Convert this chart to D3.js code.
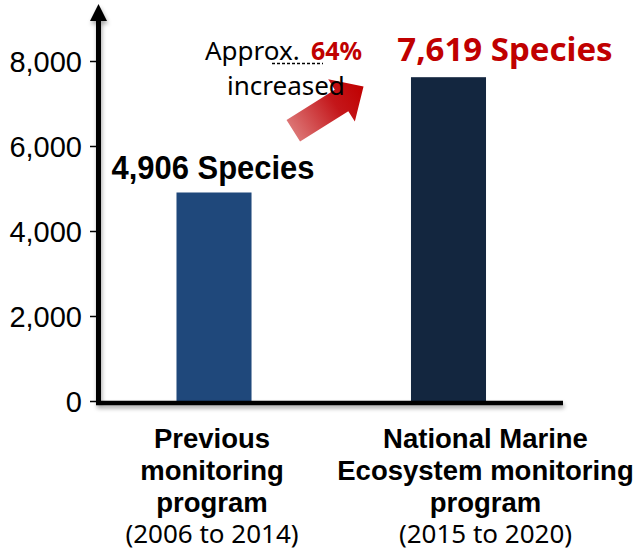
<!DOCTYPE html>
<html>
<head>
<meta charset="utf-8">
<script src="https://cdn.jsdelivr.net/npm/d3@7"></script>
<style>
  html, body { margin: 0; padding: 0; background: #ffffff; }
  svg { display: block; }
</style>
</head>
<body>
<svg id="chart" width="634" height="552"></svg>
<script>
// ---- data ----
const categories = ["Previous monitoring program", "National Marine Ecosystem monitoring program"];
const categoryLines = [
  ["Previous", "monitoring", "program"],
  ["National Marine", "Ecosystem monitoring", "program"]
];
const periodLabels = ["(2006 to 2014)", "(2015 to 2020)"];
const speciesCounts = [4906, 7619];
const valueLabels = ["4,906 Species", "7,619 Species"];
const yTicks = [0, 2000, 4000, 6000, 8000];
const increaseText = ["Approx.", "64%", "increased"];

// ---- layout ----
const W = 634, H = 552;
const barColors = ["#1f487b", "#13263f"];
const labelColors = ["#000000", "#c00000"];
const catLabelShift = [-2, 37];

const svg = d3.select("#chart");
const defs = svg.append("defs");

const shadow = defs.append("filter").attr("id", "shadow")
  .attr("x", "-10%").attr("y", "-50%").attr("width", "120%").attr("height", "300%");
shadow.append("feDropShadow").attr("dx", 1).attr("dy", 3).attr("stdDeviation", 2.2)
  .attr("flood-color", "#000").attr("flood-opacity", 0.35);

const grad = defs.append("linearGradient").attr("id", "arrowGrad")
  .attr("x1", "0%").attr("y1", "0%").attr("x2", "100%").attr("y2", "0%");
grad.append("stop").attr("offset", "0%").attr("stop-color", "#dc7474");
grad.append("stop").attr("offset", "60%").attr("stop-color", "#c4161a");
grad.append("stop").attr("offset", "100%").attr("stop-color", "#c00000");

const x = d3.scaleBand().domain(categories).range([97, 565.5])
  .paddingInner(0.68).paddingOuter(0.339);
const y = d3.scaleLinear().domain([0, 8000]).range([401, 61]);

// bars
svg.append("g").selectAll("rect").data(categories).join("rect")
  .attr("x", d => x(d))
  .attr("y", (d, i) => y(speciesCounts[i]))
  .attr("width", x.bandwidth())
  .attr("height", (d, i) => y(0) - y(speciesCounts[i]))
  .attr("fill", (d, i) => barColors[i]);

// y axis ticks & labels
const yAxis = d3.axisLeft(y).tickValues(yTicks).tickFormat(d3.format(",")).tickSize(7).tickPadding(8);
const gy = svg.append("g").attr("transform", "translate(97,0)").call(yAxis);
gy.select(".domain").remove();
gy.selectAll(".tick line").attr("stroke", "#000").attr("stroke-width", 1.5);
gy.selectAll(".tick text")
  .attr("font-family", "'Liberation Sans', Arial, Helvetica, sans-serif")
  .attr("font-size", 29).attr("fill", "#000").attr("dy", "0.36em");

// axis lines (thick, with shadow)
const axes = svg.append("g").attr("filter", "url(#shadow)");
axes.append("line").attr("x1", 96).attr("x2", 563).attr("y1", y(0) + 2).attr("y2", y(0) + 2)
  .attr("stroke", "#000").attr("stroke-width", 4.5);
axes.append("line").attr("x1", 98.5).attr("x2", 98.5).attr("y1", y(0) + 4).attr("y2", 18)
  .attr("stroke", "#000").attr("stroke-width", 5);
axes.append("path").attr("d", "M90,21 L98.5,4 L107,21 Z").attr("fill", "#000");

// value labels
const bold = "'Liberation Sans', Arial, Helvetica, sans-serif";
svg.append("text")
  .attr("x", x(categories[0]) + x.bandwidth() / 2 - 1)
  .attr("y", y(speciesCounts[0]) - 13)
  .attr("text-anchor", "middle")
  .attr("font-family", bold).attr("font-weight", "bold").attr("font-size", 34)
  .attr("textLength", 203).attr("lengthAdjust", "spacingAndGlyphs")
  .attr("fill", labelColors[0]).text(valueLabels[0]);

svg.append("text")
  .attr("x", x(categories[1]) + x.bandwidth() / 2 + 56.5)
  .attr("y", y(speciesCounts[1]) - 16)
  .attr("text-anchor", "middle")
  .attr("font-family", "'Noto Sans', sans-serif").attr("font-weight", "bold").attr("font-size", 33)
  .attr("fill", labelColors[1]).text(valueLabels[1]);

// increase annotation
const noto = "'Noto Sans', 'Open Sans', sans-serif";
svg.append("text").attr("x", 205).attr("y", 60)
  .attr("font-family", noto).attr("font-size", 26).attr("fill", "#000").text(increaseText[0]);
svg.append("line").attr("x1", 272).attr("x2", 323).attr("y1", 63.5).attr("y2", 63.5)
  .attr("stroke", "#000").attr("stroke-width", 1.3).attr("stroke-dasharray", "3,2");
svg.append("text").attr("x", 311).attr("y", 60)
  .attr("font-family", noto).attr("font-weight", "bold").attr("font-size", 25)
  .attr("fill", "#c00000").text(increaseText[1]);

// arrow
const ax0 = 293.3, ay0 = 130.8, angle = -32.2;
svg.append("path")
  .attr("transform", `translate(${ax0},${ay0}) rotate(${angle})`)
  .attr("d", "M0,-12.7 L57,-12.7 L57,-25 L83,0 L57,25 L57,12.7 L0,12.7 Z")
  .attr("fill", "url(#arrowGrad)");

svg.append("text").attr("x", 227).attr("y", 95)
  .attr("font-family", noto).attr("font-size", 26).attr("fill", "#000").text(increaseText[2]);

// category labels
categories.forEach((c, i) => {
  const cx = x(c) + x.bandwidth() / 2 + catLabelShift[i];
  const g = svg.append("g");
  categoryLines[i].forEach((line, j) => {
    g.append("text").attr("x", cx).attr("y", 448 + j * 32)
      .attr("text-anchor", "middle")
      .attr("font-family", bold).attr("font-weight", "bold").attr("font-size", 27.5)
      .attr("fill", "#000").text(line);
  });
  g.append("text").attr("x", cx).attr("y", 543)
    .attr("text-anchor", "middle")
    .attr("font-family", noto).attr("font-size", 26)
    .attr("fill", "#000").text(periodLabels[i]);
});
</script>
</body>
</html>
